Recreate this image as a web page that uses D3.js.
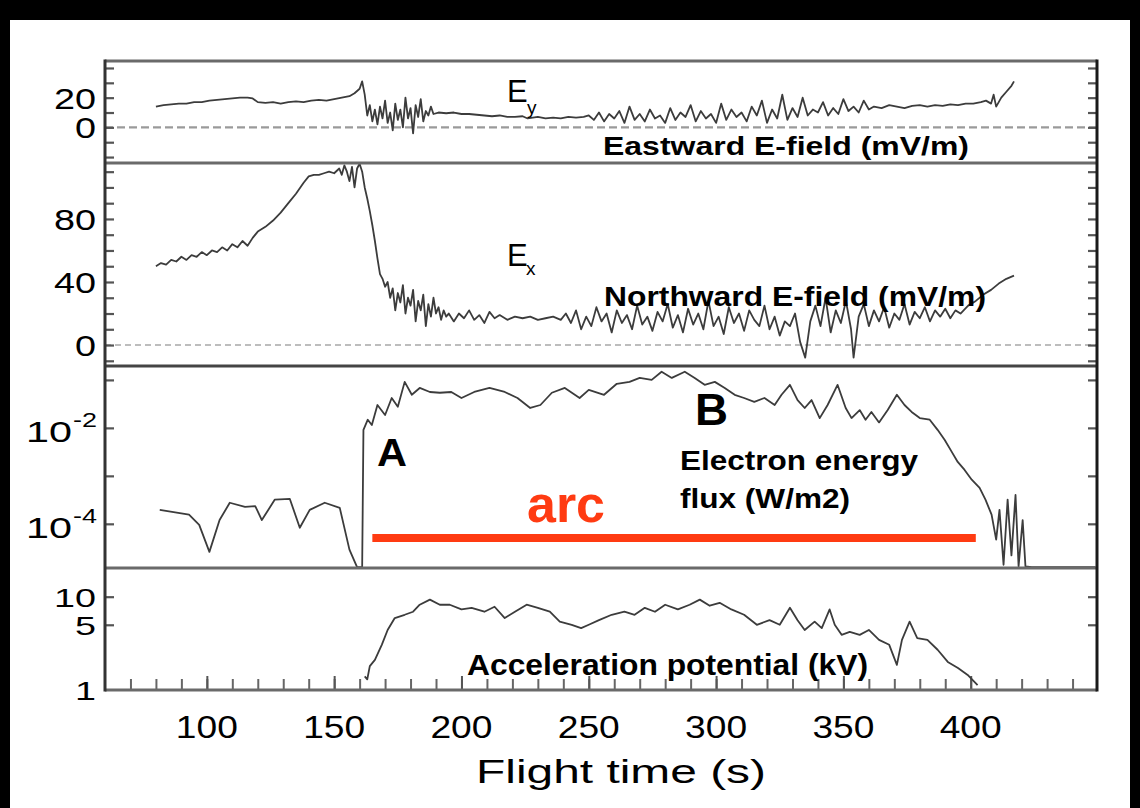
<!DOCTYPE html>
<html><head><meta charset="utf-8">
<script src="https://cdn.jsdelivr.net/npm/d3@7"></script>
<style>html,body{margin:0;padding:0;background:#000;} svg{display:block;}</style>
</head><body>
<svg id="chart" width="1140" height="808"></svg>
<script>
// ---------- DATA ----------
const xMajorTicks = [100, 150, 200, 250, 300, 350, 400];
const xMinorTicks = d3.range(70, 450, 10);
const eyTickLabels = [20, 0];
const exTickLabels = [80, 40, 0];
const fluxTickExponents = [-2, -4];
const potTickLabels = [10, 5, 1];
const eyTicks = [-20, -10, 0, 10, 20, 30, 40];
const exTicks = [-10, 0, 10, 20, 30, 40, 50, 60, 70, 80, 90, 100, 110];
const fluxTicks = [1e-1, 1e-2, 1e-3, 1e-4];
const potTicks = [5, 10];
const arcSpan = [165, 402];

// Eastward E-field Ey (mV/m) vs flight time (s)
const eyData = [[80,14],[83,15],[86,15.5],[89,16],[92,16],[95,17],[98,17],[101,18],[104,18.5],[107,19],[110,19.5],[113,20],[116,20],[118,19.5],[120,17],[123,16.5],[126,17],[129,16],[132,17],[135,17.5],[138,17],[141,18],[144,18.5],[147,18],[150,19],[153,20],[156,21],[158,23],[160,26],[161,31],[162,22],
[163,8],[164,15],[165,4],[166,12],[167,2],[168,14],[169,6],[170,18],[171,3],[172,10],[173,-2],[174,16],[175,5],[176,12],[177,0],[178,20],[179,6],[180,13],[181,-4],[182,15],[183,7],[184,19],[185,4],[186,11],[187,8],[188,14],[189,9],
[191,10],[194,9.5],[197,10],[200,9],[203,9],[206,8.5],[209,8],[212,7.5],[215,8],[218,7],[221,7],[224,7.5],[226,6],[230,7],[233,6],[236,6.5],[239,6],[242,7],[245,6.5],[248,7],
[250,8],[252,5],[254,10],[256,4],[258,9],[260,6],[262,11],[264,3],[266,14],[268,5],[270,9],[272,4],[274,12],[276,6],[278,8],[280,3],[282,13],[284,5],[286,10],[288,7],[290,15],[292,4],[294,11],[296,6],[298,9],[300,3],[302,16],[304,5],[306,12],[308,7],[310,10],[312,4],[314,14],[316,8],[318,18],[320,3],[322,12],[324,6],[326,22],[328,5],[330,13],[332,7],[334,20],[336,8],[338,12],[340,10],[342,17],[344,8],[346,13],[348,9],[350,19],[352,11],[354,14],[356,10],[358,18],[360,12],
[362,14],[365,13],[368,15],[371,14],[374,13],[377,14.5],[380,15],[383,14],[386,15],[389,14.5],[392,15.5],[395,15],[398,16],[401,16],[404,17],[406,18],[408,16],[409,22],[410,14],[412,20],[414,24],[416,28],[417,31]];

// Northward E-field Ex (mV/m)
const exData = [[80,50],[82,52],[84,51],[86,54],[88,53],[90,56],[92,54],[94,57],[96,56],[98,59],[100,57],[102,60],[104,59],[106,62],[108,60],[110,64],[112,62],[114,66],[116,63],[118,68],[120,72],[123,75],[126,79],[129,84],[132,90],[135,96],[138,103],[140,107],[142,108],[144,108],[146,109],[148,110],[150,109],[152,112],[153,108],[154,114],[155,110],[156,104],[157,113],[158,100],[159,112],[160,115],[161,110],[162,100],
[163,93],[164,85],[165,76],[166,66],[167,55],[168,45],[169,42],[170,37],[171,40],[172,30],[173,36],[174,22],[175,33],[176,27],[177,38],[178,20],[179,30],[180,25],[181,35],[182,15],[183,28],[184,22],[185,32],[186,12],[187,26],[188,18],[189,30],[190,20],[191,24],[192,16],[193,22],[194,18],[195,20],[197,15],[199,20],[201,17],[203,22],[205,16],[207,19],[209,14],[211,21],[213,17],[215,19],[218,16],[221,18],[224,17],[227,18],[230,16],[233,17],[236,18],[239,16],
[241,20],[243,14],[245,22],[247,10],[249,18],[251,12],[253,24],[255,15],[257,20],[259,8],[261,22],[263,14],[265,19],[267,10],[269,25],[271,13],[273,18],[275,9],[277,21],[279,15],[281,26],[283,11],[285,19],[287,8],[289,23],[291,13],[293,20],[295,10],[297,28],[299,12],[301,18],[303,7],[305,24],[307,14],[309,20],[311,9],[313,22],[315,16],[317,12],[319,25],[321,10],[323,18],[325,6],[327,15],[329,12],[331,20],
[333,2],[335,-8],[337,15],[339,25],[341,12],[343,30],[345,8],[347,22],[349,14],[351,28],[353,10],[354,-8],[356,18],[358,26],[360,12],[362,22],[364,15],[366,24],[368,11],[370,20],[372,16],[374,26],[376,13],[378,21],[380,17],[382,24],[384,15],[386,22],[388,18],[390,23],[392,17],[394,22],[396,20],[399,25],[402,28],[405,32],[408,35],[411,39],[414,42],[417,44]];

// Electron energy flux (W/m2)
const fluxData = [[81.5,1.95e-4],[93,1.55e-4],[97,9.5e-5],[101,2.6e-5],[105,1.2e-4],[109,2.75e-4],[115,2.25e-4],[119,2.35e-4],[121.6,1.2e-4],[126.7,3.2e-4],[132.6,3.3e-4],[136.5,8.3e-5],[140.4,1.95e-4],[146.3,2.75e-4],[152.2,2.15e-4],[156,2.9e-5],[159,1.25e-5],[161,1.25e-5],
[161.5,9.1e-3],[163.2,1.48e-2],[164.8,1.15e-2],[167,3.0e-2],[170,1.86e-2],[172.6,4.2e-2],[175,2.75e-2],[177.7,9.1e-2],[180.5,4.9e-2],[183.6,6.8e-2],[187.6,5.6e-2],[191.5,5.4e-2],[196,5.6e-2],[200,4.2e-2],[205,5.6e-2],[211,6.8e-2],[217,5.6e-2],[222,4.2e-2],[227,2.6e-2],[231,3.0e-2],[235.5,5.4e-2],[240.6,6.8e-2],[246.4,4.2e-2],[250,6.2e-2],[256,4.9e-2],[261,8.3e-2],[266,9.1e-2],[270,0.11],[274.7,0.10],[278.6,0.148],[282.6,0.11],[287.7,0.148],[291.6,0.11],[295.5,7.9e-2],[299.5,9.1e-2],[303.4,6.8e-2],[307.3,4.9e-2],[311,4.2e-2],[315,3.5e-2],[319,4.2e-2],[323,3.0e-2],[325.7,4.9e-2],[329,7.9e-2],[332,3.8e-2],[334.8,2.6e-2],[337.5,3.8e-2],[340.7,1.6e-2],[343.8,3.0e-2],[347.7,7.9e-2],[350.9,2.6e-2],[353.2,1.6e-2],[356.4,2.35e-2],[358.7,1.48e-2],[361,2.15e-2],[364,1.3e-2],[367.4,2.35e-2],[371,4.9e-2],[374,3.0e-2],[376.8,2.15e-2],[380,1.6e-2],[383.9,1.48e-2],[387,9.1e-3],[389.8,5.6e-3],[392.5,3.2e-3],[394.9,1.95e-3],[397.6,1.33e-3],[400.4,8.3e-4],[403.5,5.6e-4],[405.8,3.2e-4],[408.2,1.55e-4],[410,4.7e-5],[411.3,1.95e-4],[412.9,1.4e-5],[414.5,3.2e-4],[416,2.2e-5],[417.6,4.0e-4],[418.8,1.3e-5],[420.4,1.2e-4],[421.5,1.3e-5],[424,1.25e-5],[449,1.25e-5]];

// Acceleration potential (kV)
const potData = [[162,1.4],[163,1.3],[164,1.8],[166,2.1],[168.7,3.05],[171,4.4],[173.8,5.9],[177.7,6.4],[181,6.9],[183.6,8.2],[187.6,9.3],[191.5,8.2],[195.4,8.2],[200,7.3],[204,7.6],[209,6.9],[213,7.8],[217,5.9],[221,6.9],[225.6,8.2],[230,7.6],[234.7,6.9],[238.6,5.4],[243.3,5.0],[247,4.6],[250,5.0],[254,5.6],[259,6.4],[264,6.9],[268,6.4],[272,7.6],[276,6.9],[280,8.2],[285,7.3],[289.6,8.2],[293.6,9.3],[297.5,8.0],[301.4,8.6],[306,7.3],[311,6.4],[316,5.0],[321,5.6],[325,5.0],[329,7.6],[332,5.6],[334.8,4.4],[338.7,5.4],[341.5,4.6],[344.6,7.3],[346.6,5.0],[349.3,3.9],[352.5,4.2],[356.4,3.9],[360,4.4],[364,3.45],[368,3.05],[371,1.86],[373,3.45],[376,5.4],[379,3.6],[383,3.45],[387,2.7],[391,2.0],[395,1.72],[398.8,1.45],[402.7,1.13]];

// ---------- LAYOUT ----------
const svg = d3.select("#chart");
const L = 105, R = 1097;
const P1 = [61, 163], P2 = [163, 366], P3 = [366, 568], P4 = [568, 690];

svg.append("rect").attr("x", 10).attr("y", 20).attr("width", 1120).attr("height", 788).attr("fill", "#fff");

const x = d3.scaleLinear().domain([60, 449.6]).range([L, R]);
const yEy = d3.scaleLinear().domain([-24, 44.7]).range([P1[1], P1[0]]);
const yEx = d3.scaleLinear().domain([-13.3, 115.5]).range([P2[1], P2[0]]);
const yFlux = d3.scaleLog().domain([1.2e-5, 0.195]).range([P3[1], P3[0]]);
const yPot = d3.scaleLog().domain([1, 20.3]).range([P4[1], P4[0]]);

const defs = svg.append("defs");
[["c1", P1], ["c2", P2], ["c3", P3], ["c4", P4]].forEach(([id, p]) => {
  defs.append("clipPath").attr("id", id).append("rect")
    .attr("x", L).attr("y", p[0]).attr("width", R - L).attr("height", p[1] - p[0]);
});

function txt(xp, yp, s, o) {
  const t = svg.append("text").attr("x", xp).attr("y", yp)
    .attr("font-family", "'Liberation Sans', Arial, Helvetica, sans-serif")
    .attr("font-size", o.size).attr("font-weight", o.weight || "normal")
    .attr("fill", o.fill || "#000").attr("text-anchor", o.anchor || "start");
  if (o.len) t.attr("textLength", o.len).attr("lengthAdjust", "spacingAndGlyphs");
  t.text(s);
  return t;
}

// dashed zero lines
svg.append("line").attr("x1", L).attr("x2", R).attr("y1", yEy(0)).attr("y2", yEy(0))
  .attr("stroke", "#9a9a9a").attr("stroke-width", 2.4).attr("stroke-dasharray", "8,4");
svg.append("line").attr("x1", L).attr("x2", R).attr("y1", yEx(0)).attr("y2", yEx(0))
  .attr("stroke", "#a8a8a8").attr("stroke-width", 1.6).attr("stroke-dasharray", "6,4");

// axes ticks (inward)
function yAxes(scale, vals) {
  const gl = svg.append("g").attr("transform", `translate(${L},0)`)
    .call(d3.axisLeft(scale).tickValues(vals).tickSize(-9).tickFormat(""));
  const gr = svg.append("g").attr("transform", `translate(${R},0)`)
    .call(d3.axisRight(scale).tickValues(vals).tickSize(-9).tickFormat(""));
  [gl, gr].forEach(g => { g.select(".domain").remove(); g.selectAll("line").attr("stroke", "#555").attr("stroke-width", 2.2); });
}
yAxes(yEy, eyTicks);
yAxes(yEx, exTicks);
yAxes(yFlux, fluxTicks);
yAxes(yPot, potTicks);

const gb = svg.append("g").attr("transform", `translate(0,${P4[1]})`)
  .call(d3.axisBottom(x).tickValues(xMinorTicks).tickSize(-11).tickFormat(""));
gb.select(".domain").remove();
gb.selectAll("line").attr("stroke", "#666").attr("stroke-width", 2);
const gb2 = svg.append("g").attr("transform", `translate(0,${P4[1]})`)
  .call(d3.axisBottom(x).tickValues(xMajorTicks).tickSize(-14).tickFormat(""));
gb2.select(".domain").remove();
gb2.selectAll("line").attr("stroke", "#555").attr("stroke-width", 2);

// data lines
function trace(data, y, clip) {
  svg.append("path").datum(data).attr("clip-path", `url(#${clip})`)
    .attr("fill", "none").attr("stroke", "#3c3c3c").attr("stroke-width", 1.8)
    .attr("stroke-linejoin", "round")
    .attr("d", d3.line().x(d => x(d[0])).y(d => y(d[1])));
}
trace(eyData, yEy, "c1");
trace(exData, yEx, "c2");
trace(fluxData, yFlux, "c3");
trace(potData, yPot, "c4");

// frames
[P1[0], P2[0], P3[0], P4[0], P4[1]].forEach((yy, i) => {
  svg.append("line").attr("x1", L).attr("x2", R).attr("y1", yy).attr("y2", yy)
    .attr("stroke", i === 2 ? "#444" : "#6a6a6a").attr("stroke-width", 3);
});
svg.append("line").attr("x1", L).attr("x2", L).attr("y1", P1[0] - 1.5).attr("y2", P4[1] + 1.5).attr("stroke", "#333").attr("stroke-width", 3);
svg.append("line").attr("x1", R).attr("x2", R).attr("y1", P1[0] - 1.5).attr("y2", P4[1] + 1.5).attr("stroke", "#1a1a1a").attr("stroke-width", 3);

// y tick labels
eyTickLabels.forEach(v => txt(96, yEy(v) + 11, String(v), {size: 30, anchor: "end", len: String(v).length * 21}));
exTickLabels.forEach(v => txt(96, yEx(v) + 11, String(v), {size: 30, anchor: "end", len: String(v).length * 21}));
fluxTickExponents.forEach(e => {
  const yy = yFlux(Math.pow(10, e));
  txt(72, yy + 14, "10", {size: 30, anchor: "end", len: 46});
  txt(97, yy - 1, String(e), {size: 21, anchor: "end", len: 24});
});
potTickLabels.forEach(v => txt(96, yPot(v) + 10, String(v), {size: 26, anchor: "end", len: String(v).length * 21}));

// x tick labels and title
xMajorTicks.forEach(v => txt(x(v), 738, String(v), {size: 32, anchor: "middle", len: 62}));
txt(621, 783, "Flight time (s)", {size: 33, anchor: "middle", len: 290});

// annotations
txt(507, 102, "E", {size: 31});
svg.append("text").attr("x", 527).attr("y", 114).attr("font-family", "'Liberation Sans', Arial, sans-serif").attr("font-size", 19).text("y");
txt(507, 266, "E", {size: 31});
svg.append("text").attr("x", 526).attr("y", 275).attr("font-family", "'Liberation Sans', Arial, sans-serif").attr("font-size", 19).text("x");

txt(603, 155, "Eastward E-field (mV/m)", {size: 26, weight: "bold", len: 366});
txt(604, 306, "Northward E-field (mV/m)", {size: 27, weight: "bold", len: 382});
txt(680, 470, "Electron energy", {size: 28, weight: "bold", len: 238});
txt(680, 508, "flux (W/m2)", {size: 28, weight: "bold", len: 170});
txt(467, 675, "Acceleration potential (kV)", {size: 30, weight: "bold", len: 401});
txt(377, 466, "A", {size: 38, weight: "bold", len: 30});
txt(695, 425, "B", {size: 45, weight: "bold", len: 33});

// arc bar
svg.append("line").attr("x1", x(arcSpan[0])).attr("x2", x(arcSpan[1]))
  .attr("y1", 538).attr("y2", 538).attr("stroke", "#ff3b12").attr("stroke-width", 8);
txt(566, 522, "arc", {size: 52, weight: "bold", anchor: "middle", fill: "#ff3b12", len: 78});
</script>
</body></html>
